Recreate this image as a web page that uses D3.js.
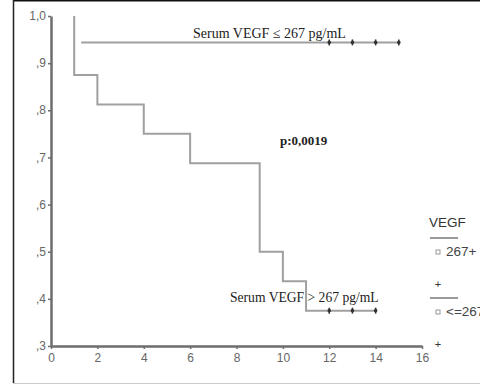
<!DOCTYPE html>
<html>
<head>
<meta charset="utf-8">
<script src="https://cdn.jsdelivr.net/npm/d3@7"></script>
<style>
  body { margin: 0; background: #fff; }
  svg { display: block; }
  .tick text { font-family: "Liberation Sans", Arial, sans-serif; font-size: 12px; fill: #666; }
</style>
</head>
<body>
<div id="chart"></div>
<script>
// Kaplan-Meier curves, serum VEGF groups
const lowStart = 1.3;
const lowEventTimes = [];
const lowEventSurv = [];
const lowStartSurv = 0.944;
const lowEnd = 15;
const lowCensor = [12, 13, 14, 15];

const highStart = 1;
const highStartSurv = 1.0;
const highEventTimes = [1, 2, 4, 6, 9, 10, 11];
const highEventSurv = [0.875, 0.8125, 0.75, 0.6875, 0.5, 0.4375, 0.375];
const highEnd = 14;
const highCensor = [12, 13, 14];

const xTicks = [0, 2, 4, 6, 8, 10, 12, 14, 16];
const yTicks = [0.3, 0.4, 0.5, 0.6, 0.7, 0.8, 0.9, 1.0];
const yTickLabels = [",3", ",4", ",5", ",6", ",7", ",8", ",9", "1,0"];

const legendTitle = "VEGF";
const legendItems = ["267+", "<=267"];

const width = 480, height = 385;

const svg = d3.select('#chart').append('svg')
    .attr('width', width)
    .attr('height', height);

// frame
svg.append('line').attr('x1', 13).attr('y1', 0.5).attr('x2', width).attr('y2', 0.5)
    .attr('stroke', '#111').attr('stroke-width', 2);
svg.append('line').attr('x1', 13.5).attr('y1', 0).attr('x2', 13.5).attr('y2', 383)
    .attr('stroke', '#222').attr('stroke-width', 1.5);
svg.append('line').attr('x1', 13).attr('y1', 383.5).attr('x2', width).attr('y2', 383.5)
    .attr('stroke', '#ccc').attr('stroke-width', 1);

const x = d3.scaleLinear().domain([0, 16]).range([51, 422]);
const y = d3.scaleLinear().domain([0.3, 1.0]).range([346, 16]);

// axes
const yAxis = svg.append('g')
    .attr('transform', `translate(${x(0)},0)`)
    .call(d3.axisLeft(y).tickValues(yTicks).tickSize(3).tickSizeOuter(0)
        .tickFormat((d, i) => yTickLabels[i]));
const xAxis = svg.append('g')
    .attr('transform', `translate(0,${y(0.3)})`)
    .call(d3.axisBottom(x).tickValues(xTicks).tickSize(3).tickSizeOuter(0));

[yAxis, xAxis].forEach(a => {
    a.select('.domain').attr('stroke', '#6d6d6d').attr('stroke-width', 2.5);
    a.selectAll('.tick line').attr('stroke', '#6d6d6d').attr('stroke-width', 1.5);
});
yAxis.selectAll('.tick text').attr('x', -5).attr('dy', '0.3em');
xAxis.selectAll('.tick text').attr('y', 7);

// curves
const line = d3.line()
    .x(d => x(d[0]))
    .y(d => y(d[1]))
    .curve(d3.curveStepAfter);

function curvePoints(start, startSurv, times, surv, end) {
    const pts = [[start, startSurv]];
    times.forEach((t, i) => pts.push([t, surv[i]]));
    pts.push([end, pts[pts.length - 1][1]]);
    return pts;
}

const lowPts = curvePoints(lowStart, lowStartSurv, lowEventTimes, lowEventSurv, lowEnd);
const highPts = curvePoints(highStart, highStartSurv, highEventTimes, highEventSurv, highEnd);

svg.append('path').attr('d', line(lowPts))
    .attr('fill', 'none').attr('stroke', '#a0a0a0').attr('stroke-width', 2);
svg.append('path').attr('d', line(highPts))
    .attr('fill', 'none').attr('stroke', '#a0a0a0').attr('stroke-width', 2);

// censor marks
function drawCensor(times, s) {
    const g = svg.append('g');
    times.forEach(t => {
        g.append('line')
            .attr('x1', x(t)).attr('x2', x(t))
            .attr('y1', y(s) - 3).attr('y2', y(s) + 3)
            .attr('stroke', '#333').attr('stroke-width', 1.5);
        g.append('circle')
            .attr('cx', x(t)).attr('cy', y(s)).attr('r', 1.8)
            .attr('fill', '#333');
    });
}
drawCensor(lowCensor, lowStartSurv);
drawCensor(highCensor, highEventSurv[highEventSurv.length - 1]);

// labels
svg.append('text')
    .attr('x', 193).attr('y', 38)
    .attr('font-family', '"Liberation Serif", "Times New Roman", serif')
    .attr('font-size', 14).attr('fill', '#222')
    .text('Serum VEGF ≤ 267 pg/mL');
svg.append('text')
    .attr('x', 230).attr('y', 302)
    .attr('font-family', '"Liberation Serif", "Times New Roman", serif')
    .attr('font-size', 13.6).attr('fill', '#222')
    .text('Serum VEGF > 267 pg/mL');
svg.append('text')
    .attr('x', 280).attr('y', 145)
    .attr('font-family', '"Liberation Serif", "Times New Roman", serif')
    .attr('font-size', 13).attr('font-weight', 'bold').attr('fill', '#222')
    .text('p:0,0019');

// legend
const lg = svg.append('g').attr('font-family', '"Liberation Sans", Arial, sans-serif');
lg.append('text').attr('x', 429).attr('y', 227)
    .attr('font-size', 13.5).attr('fill', '#333').text(legendTitle);
legendItems.forEach((name, i) => {
    const y0 = 238 + i * 60;
    lg.append('line').attr('x1', 430).attr('x2', 458)
        .attr('y1', y0).attr('y2', y0)
        .attr('stroke', '#999').attr('stroke-width', 2);
    lg.append('rect').attr('x', 436).attr('y', y0 + 12).attr('width', 4).attr('height', 4)
        .attr('fill', 'none').attr('stroke', '#999').attr('stroke-width', 1);
    lg.append('text').attr('x', 446).attr('y', y0 + 18)
        .attr('font-size', 13.5).attr('fill', '#444').text(name);
    lg.append('text').attr('x', 438).attr('y', y0 + 50)
        .attr('text-anchor', 'middle')
        .attr('font-size', 11).attr('fill', '#333').text('+');
});
</script>
</body>
</html>
